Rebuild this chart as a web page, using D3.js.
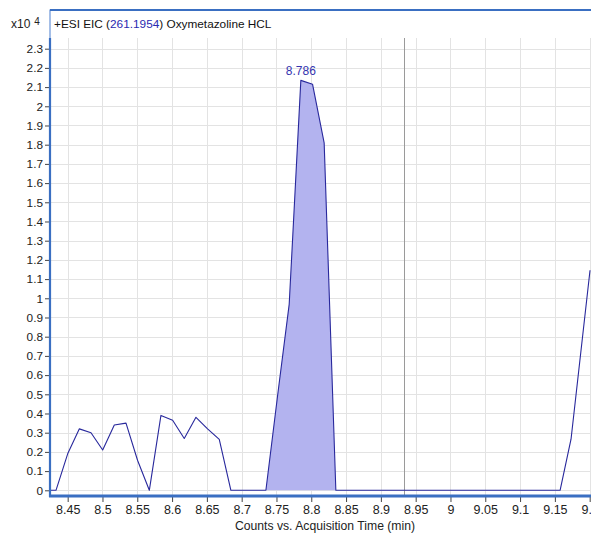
<!DOCTYPE html>
<html><head><meta charset="utf-8">
<script src="https://cdn.jsdelivr.net/npm/d3@7"></script>
<style>
html,body{margin:0;padding:0;background:#fff;}
svg{display:block;font-family:"Liberation Sans",Arial,sans-serif;}
</style></head>
<body><svg id="c" width="591" height="536"></svg>
<script>
// retention times (min) and intensities (x10^4 counts)
const times = [8.4164, 8.4332, 8.4500, 8.4668, 8.4835, 8.5003, 8.5170, 8.5338, 8.5505, 8.5673,
  8.5840, 8.6008, 8.6175, 8.6343, 8.6510, 8.6678, 8.6845, 8.7348, 8.7515, 8.7683,
  8.7850, 8.8018, 8.8185, 8.8353, 9.1575, 9.1732, 9.2005];
const intensities = [0, 0, 0.19, 0.32, 0.30, 0.21, 0.34, 0.35, 0.155, 0,
  0.39, 0.365, 0.27, 0.38, 0.32, 0.265, 0, 0, 0.49, 0.97,
  2.135, 2.115, 1.81, 0, 0, 0.266, 1.146];
const peakStart = 8.7348, peakEnd = 8.8353;
const peakLabel = "8.786";
const peakTime = 8.7850, peakValue = 2.135;
const yTicks = [0,0.1,0.2,0.3,0.4,0.5,0.6,0.7,0.8,0.9,1,1.1,1.2,1.3,1.4,1.5,1.6,1.7,1.8,1.9,2,2.1,2.2,2.3];
const xTicks = [8.45,8.5,8.55,8.6,8.65,8.7,8.75,8.8,8.85,8.9,8.95,9,9.05,9.1,9.15,9.2];
const cursorTime = 8.9333;
const titleParts = ["+ESI EIC (", "261.1954", ") Oxymetazoline HCL"];
const xTitle = "Counts vs. Acquisition Time (min)";

const data = times.map((t,i)=>({t, v: intensities[i]}));
const svg = d3.select("#c");
const L=50, R=591, T=38, B=496;
const x = d3.scaleLinear().domain([8.4246, 9.2019]).range([L, R]);
const y = d3.scaleLinear().domain([-0.0297, 2.3557]).range([B, T]);

// outer panel frame
svg.append("rect").attr("x",L).attr("y",10).attr("width",R-L+5).attr("height",B-10)
  .attr("fill","#fff").attr("stroke","#4a7fd0").attr("stroke-width",1);
svg.append("line").attr("x1",L).attr("x2",R+2).attr("y1",10).attr("y2",10)
  .attr("stroke","#3a6fc2").attr("stroke-width",2);

// title
const tt = svg.append("text").attr("x",54).attr("y",28).attr("font-size",11.8).attr("fill","#111");
tt.append("tspan").text(titleParts[0]);
tt.append("tspan").attr("fill","#2a2ab0").text(titleParts[1]);
tt.append("tspan").text(titleParts[2]);
const ex = svg.append("text").attr("x",11).attr("y",28).attr("font-size",12).attr("fill","#222");
ex.append("tspan").text("x10");
ex.append("tspan").attr("dx",4).attr("dy",-3).attr("font-size",10).text("4");

// grid
const g = svg.append("g");
g.selectAll("line.h").data(yTicks).join("line")
  .attr("x1",L).attr("x2",R).attr("y1",d=>Math.round(y(d))+0.5).attr("y2",d=>Math.round(y(d))+0.5)
  .attr("stroke","#e3e3e3").attr("stroke-width",1);
g.selectAll("line.v").data(xTicks).join("line")
  .attr("y1",T).attr("y2",B).attr("x1",d=>Math.round(x(d))+0.5).attr("x2",d=>Math.round(x(d))+0.5)
  .attr("stroke","#e3e3e3").attr("stroke-width",1);

// cursor line
svg.append("line").attr("x1",Math.round(x(cursorTime))+0.5).attr("x2",Math.round(x(cursorTime))+0.5)
  .attr("y1",T).attr("y2",B).attr("stroke","#9a9a9a").attr("stroke-width",1);

// clip
svg.append("clipPath").attr("id","clp").append("rect").attr("x",L).attr("y",T-30).attr("width",R-L).attr("height",B-T+28);
const plot = svg.append("g").attr("clip-path","url(#clp)");

const peakData = data.filter(d=>d.t>=peakStart-1e-6 && d.t<=peakEnd+1e-6);
plot.append("path").datum(peakData)
  .attr("d", d3.area().x(d=>x(d.t)).y0(y(0)).y1(d=>y(d.v)))
  .attr("fill","#b3b3ef").attr("stroke","none");
plot.append("path").datum(data)
  .attr("d", d3.line().x(d=>x(d.t)).y(d=>y(d.v)))
  .attr("fill","none").attr("stroke","#28289c").attr("stroke-width",1.1).attr("stroke-linejoin","round");

// peak label
svg.append("text").attr("x",x(peakTime)).attr("y",y(peakValue)-5).attr("text-anchor","middle")
  .attr("font-size",12).attr("fill","#3535b0").text(peakLabel);

// y axis
const ya = svg.append("g").attr("transform",`translate(${L},0)`)
  .call(d3.axisLeft(y).tickValues(yTicks).tickSize(5).tickPadding(2).tickFormat(d3.format("~g")));
ya.select(".domain").remove();
ya.selectAll("text").attr("font-size",11.8).attr("fill","#222").attr("font-family","Liberation Sans, Arial, sans-serif");
ya.selectAll("line").attr("stroke","#444");
svg.append("line").attr("x1",L).attr("x2",L).attr("y1",T).attr("y2",B+1).attr("stroke","#3a6fc2").attr("stroke-width",2.2);

// x axis
const xa = svg.append("g").attr("transform",`translate(0,${B+1})`)
  .call(d3.axisBottom(x).tickValues(xTicks).tickSize(5).tickPadding(3).tickFormat(d3.format("~g")));
xa.select(".domain").remove();
xa.selectAll("text").attr("font-size",12.5).attr("fill","#222").attr("font-family","Liberation Sans, Arial, sans-serif");
xa.selectAll("line").attr("stroke","#444");
svg.append("line").attr("x1",L-1).attr("x2",R+2).attr("y1",B).attr("y2",B).attr("stroke","#3a6fc2").attr("stroke-width",3);

svg.append("text").attr("x",325).attr("y",530).attr("text-anchor","middle").attr("font-size",12.2)
  .attr("fill","#222").text(xTitle);
</script></body></html>
